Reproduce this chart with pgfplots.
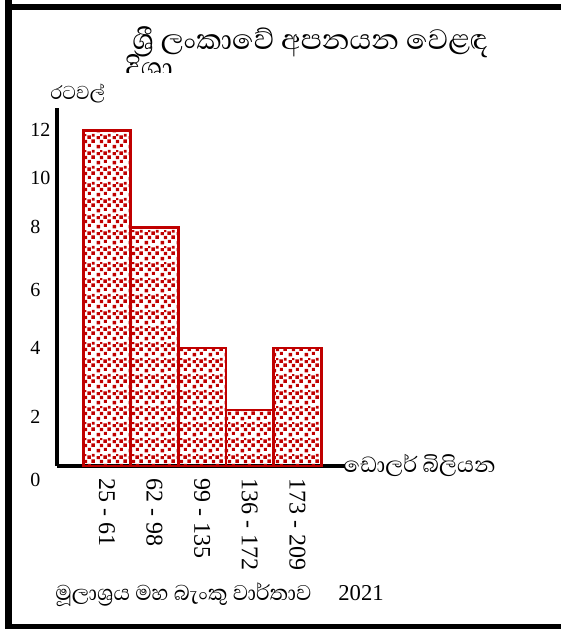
\documentclass[border=0pt]{standalone}
\usepackage{fontspec}
\setmainfont{Liberation Serif}
\newfontfamily\sinhfont[Script=Sinhala]{Abhaya Libre}
\usepackage{pgfplots}
\pgfplotsset{compat=1.18}
\usetikzlibrary{patterns}
\definecolor{barred}{RGB}{192,0,0}
\pgfdeclarepatternformonly{confetti}{\pgfqpoint{0pt}{0pt}}{\pgfqpoint{12pt}{12pt}}{\pgfqpoint{12pt}{12pt}}{%
  \pgfpathrectangle{\pgfqpoint{0.4pt}{0.4pt}}{\pgfqpoint{2.9pt}{2.9pt}}%
  \pgfpathrectangle{\pgfqpoint{6.2pt}{1.6pt}}{\pgfqpoint{2.5pt}{2.5pt}}%
  \pgfpathrectangle{\pgfqpoint{3.0pt}{4.6pt}}{\pgfqpoint{2.7pt}{2.7pt}}%
  \pgfpathrectangle{\pgfqpoint{9.0pt}{4.8pt}}{\pgfqpoint{2.8pt}{2.8pt}}%
  \pgfpathrectangle{\pgfqpoint{0.5pt}{7.8pt}}{\pgfqpoint{2.5pt}{2.5pt}}%
  \pgfpathrectangle{\pgfqpoint{5.8pt}{8.0pt}}{\pgfqpoint{2.9pt}{2.9pt}}%
  \pgfpathrectangle{\pgfqpoint{9.5pt}{9.9pt}}{\pgfqpoint{2.2pt}{2.2pt}}%
  \pgfpathrectangle{\pgfqpoint{3.3pt}{10.3pt}}{\pgfqpoint{1.8pt}{1.6pt}}%
  \pgfusepath{fill}}
\begin{document}
\begin{tikzpicture}
\useasboundingbox (0,0) rectangle (420.75pt,471.75pt);
% frame
\draw[line width=5.25pt] (6.4pt,475pt) -- (6.4pt,-5pt);
\draw[line width=4.5pt] (3.75pt,466.5pt) -- (430pt,466.5pt);
\draw[line width=3.4pt] (3.75pt,1.7pt) -- (430pt,1.7pt);
\begin{axis}[
  at={(42.75pt,122.25pt)}, anchor=south west,
  scale only axis, width=216pt, height=268.5pt,
  xmin=-1.05, xmax=5.0, ymin=0, ymax=12.92,
  axis x line=bottom, axis y line=left,
  axis line style={line width=3pt, -},
  y coord trafo/.code={\pgfmathparse{(#1<=2) ? (28*#1) : ((#1<=4) ? (56+31*(#1-2)) : ((#1<=6) ? (118+29*(#1-4)) : ((#1<=8) ? (176+31.5*(#1-6)) : ((#1<=10) ? (239+24.5*(#1-8)) : (288+24*(#1-10))))))}},
  xtick={0,1,2,3,4},
  xticklabels={25 - 61, 62 - 98, 99 - 135, 136 - 172, 173 - 209},
  ytick={0,2,4,6,8,10,12},
  yticklabels={\raisebox{-10.5pt}{0},\raisebox{-5.25pt}{2},4,6,8,10,12},
  major tick length=0pt,
  xticklabel style={rotate=-90, anchor=west, inner sep=0pt, font=\fontsize{18}{18}\selectfont},
  xticklabel shift=9pt,
  yticklabel style={anchor=base west, inner sep=0pt, yshift=-5pt, font=\fontsize{15}{15}\selectfont},
  yticklabel shift=20.25pt,
  clip=false,
]
\addplot[ybar, bar width=1, draw=barred, line width=2.2pt, pattern=confetti, pattern color=barred]
  coordinates {(0,12) (1,8) (2,4) (3,2) (4,4)};
\end{axis}
% title
\node[anchor=base west, inner sep=0pt, font=\sinhfont\fontsize{27}{27}\selectfont] at (99pt,434.25pt) {ශ්^^^^200dරී ලංකාවේ අපනයන වෙළඳ};
\begin{scope}
\clip (0,417pt) rectangle (420.75pt,471.75pt);
\node[anchor=base west, inner sep=0pt, font=\sinhfont\fontsize{27}{27}\selectfont] at (93.75pt,413.5pt) {දිශා};
\end{scope}
\node[anchor=base west, inner sep=0pt, font=\sinhfont\fontsize{18}{18}\selectfont] at (37.5pt,396.75pt) {රටවල්};
\node[anchor=base west, inner sep=0pt, font=\sinhfont\fontsize{21}{21}\selectfont] at (257.25pt,117pt) {ඩොලර් බිලියන};
\node[anchor=base west, inner sep=0pt] at (41.25pt,21pt) {{\sinhfont\fontsize{20.5}{20.5}\selectfont මූලාශ්^^^^200dරය මහ බැංකු වාර්තාව}\hspace{20pt}{\fontsize{17}{17}\selectfont 2021}};
\end{tikzpicture}
\end{document}
